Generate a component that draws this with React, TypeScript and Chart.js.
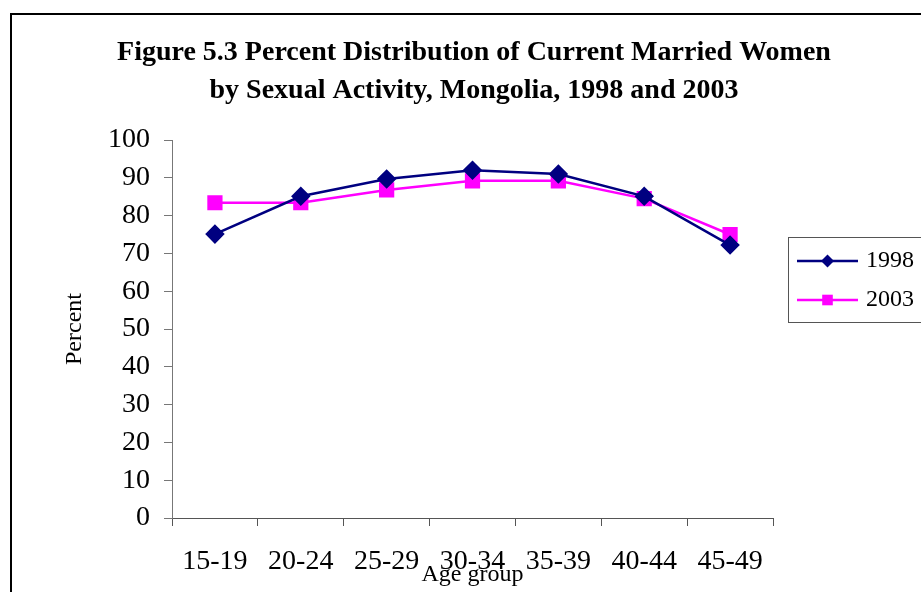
import React, { useEffect, useRef } from 'react';
import { Chart, registerables } from 'chart.js';

Chart.register(...registerables);

const categories = ['15-19', '20-24', '25-29', '30-34', '35-39', '40-44', '45-49'];
const series1998 = [75.1, 85.1, 89.7, 92.0, 91.0, 85.1, 72.2];
const series2003 = [83.4, 83.4, 86.8, 89.2, 89.2, 84.5, 75.0];
const seriesLabels = ['1998', '2003'];
const titleLines = [
  'Figure 5.3 Percent Distribution of Current Married Women',
  'by Sexual Activity, Mongolia, 1998 and 2003',
];
const yAxisTitle = 'Percent';
const xAxisTitle = 'Age group';

const FONT = '"Liberation Serif", "Times New Roman", serif';

const framePlugin = {
  id: 'frame',
  beforeDraw(chart: any) {
    const ctx = chart.ctx;
    ctx.save();
    ctx.fillStyle = '#ffffff';
    ctx.fillRect(0, 0, chart.width, chart.height);
    ctx.strokeStyle = '#000000';
    ctx.lineWidth = 2;
    ctx.strokeRect(11, 14, chart.width + 40, chart.height + 40);
    ctx.restore();
  },
};

const titlePlugin = {
  id: 'customTitle',
  afterDraw(chart: any) {
    const ctx = chart.ctx;
    ctx.save();
    ctx.fillStyle = '#000000';
    ctx.font = `bold 28px ${FONT}`;
    ctx.textAlign = 'center';
    ctx.textBaseline = 'alphabetic';
    ctx.fillText(titleLines[0], 474, 60);
    ctx.fillText(titleLines[1], 474, 98);
    ctx.restore();
  },
};

function drawMarker(ctx: CanvasRenderingContext2D, style: string, x: number, y: number, r: number, color: string) {
  ctx.fillStyle = color;
  ctx.beginPath();
  if (style === 'rectRot') {
    ctx.moveTo(x, y - r);
    ctx.lineTo(x + r, y);
    ctx.lineTo(x, y + r);
    ctx.lineTo(x - r, y);
    ctx.closePath();
  } else {
    const s = r * Math.SQRT1_2;
    ctx.rect(x - s, y - s, 2 * s, 2 * s);
  }
  ctx.fill();
}

const legendPlugin = {
  id: 'customLegend',
  afterDraw(chart: any) {
    const ctx = chart.ctx;
    ctx.save();
    ctx.strokeStyle = '#555555';
    ctx.lineWidth = 1;
    ctx.strokeRect(788.5, 237.5, 200, 85);
    const rows = [261, 300];
    chart.data.datasets.forEach((ds: any, i: number) => {
      const y = rows[i];
      ctx.strokeStyle = ds.borderColor;
      ctx.lineWidth = 2.5;
      ctx.beginPath();
      ctx.moveTo(797, y);
      ctx.lineTo(858, y);
      ctx.stroke();
      drawMarker(ctx, ds.pointStyle, 827.5, y, ds.pointStyle === 'rectRot' ? 6.5 : 7.5, ds.borderColor);
      ctx.fillStyle = '#000000';
      ctx.font = `24px ${FONT}`;
      ctx.textAlign = 'left';
      ctx.textBaseline = 'middle';
      ctx.fillText(ds.label, 866, y);
    });
    ctx.restore();
  },
};

export default function App() {
  const canvasRef = useRef<HTMLCanvasElement | null>(null);

  useEffect(() => {
    if (!canvasRef.current) return;
    const chart = new Chart(canvasRef.current, {
      type: 'line',
      data: {
        labels: categories,
        datasets: [
          {
            label: seriesLabels[0],
            data: series1998,
            borderColor: '#000080',
            backgroundColor: '#000080',
            borderWidth: 2.5,
            pointStyle: 'rectRot',
            pointRadius: 8,
            pointHoverRadius: 8,
            tension: 0,
          },
          {
            label: seriesLabels[1],
            data: series2003,
            borderColor: '#FF00FF',
            backgroundColor: '#FF00FF',
            borderWidth: 2.5,
            pointStyle: 'rect',
            pointRadius: 9,
            pointHoverRadius: 9,
            tension: 0,
          },
        ],
      },
      options: {
        responsive: false,
        animation: false,
        events: [],
        layout: { padding: { top: 140, right: 148, bottom: 0, left: 0 } },
        plugins: {
          legend: { display: false },
          title: { display: false },
          tooltip: { enabled: false },
        },
        scales: {
          x: {
            type: 'category',
            offset: true,
            grid: {
              offset: true,
              drawOnChartArea: false,
              drawTicks: true,
              tickLength: 8,
              color: '#555555',
            },
            border: { display: true, color: '#555555', width: 1 },
            ticks: {
              color: '#000000',
              font: { family: FONT, size: 28 },
              padding: 19,
              maxRotation: 0,
              autoSkip: false,
            },
            title: {
              display: true,
              text: xAxisTitle,
              color: '#000000',
              font: { family: FONT, size: 24 },
              padding: { top: 0, bottom: 3 },
            },
            afterFit(scale: any) {
              scale.height = 74;
            },
          },
          y: {
            min: 0,
            max: 100,
            ticks: {
              stepSize: 10,
              color: '#000000',
              font: { family: FONT, size: 28 },
              padding: 14,
            },
            grid: {
              drawOnChartArea: false,
              drawTicks: true,
              tickLength: 8,
              color: '#777777',
            },
            border: { display: true, color: '#777777', width: 1 },
            title: {
              display: true,
              text: yAxisTitle,
              color: '#000000',
              font: { family: FONT, size: 24 },
              padding: { top: 60, bottom: 0 },
            },
            afterFit(scale: any) {
              scale.width = 172;
            },
          },
        },
      },
      plugins: [framePlugin, titlePlugin, legendPlugin],
    });
    return () => chart.destroy();
  }, []);

  return (
    <div style={{ position: 'absolute', left: 0, top: 0, width: 921, height: 592, background: '#fff' }}>
      <canvas ref={canvasRef} width={921} height={592} style={{ display: 'block' }} />
    </div>
  );
}
